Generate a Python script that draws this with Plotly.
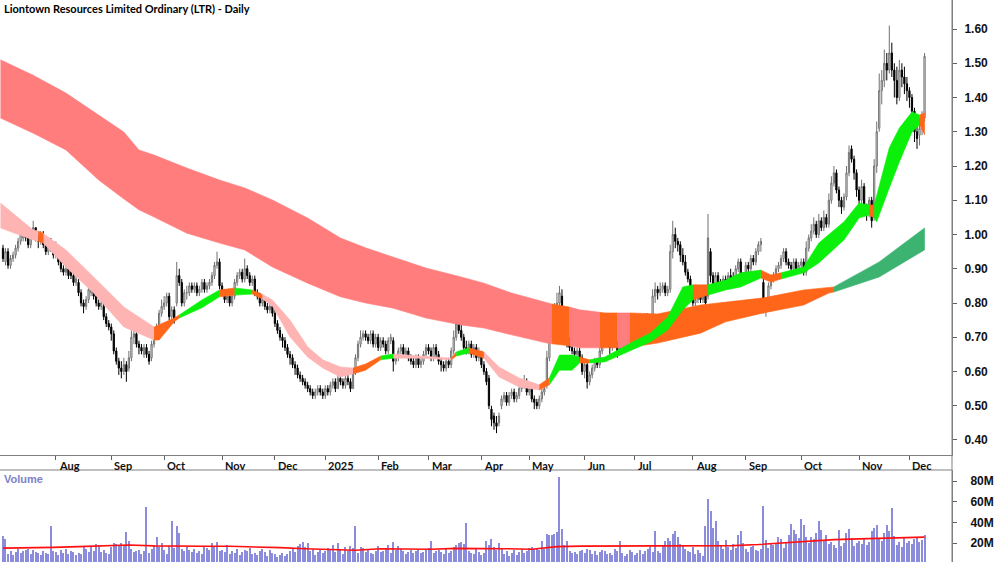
import pandas as pd
import plotly.graph_objects as go

TITLE = "Liontown Resources Limited Ordinary (LTR) - Daily"
HOLIDAYS = ["2024-12-25", "2024-12-26", "2025-01-01", "2025-01-27",
            "2025-04-18", "2025-04-21", "2025-04-25", "2025-06-09"]

# daily prices in cents
OPEN = [96, 92, 95, 91, 93, 94, 96, 98, 99, 101,
        99, 97, 100, 102, 99, 98, 100, 97, 95, 98,
        96, 94, 96, 92, 90, 89, 90, 89, 88, 86,
        86, 83, 80, 79, 81, 83, 86, 82, 80, 79,
        79, 76, 74, 73, 71, 66, 63, 61, 60, 62,
        61, 64, 70, 71, 68, 67, 65, 67, 65, 64,
        68, 71, 73, 77, 79, 80, 82, 76, 78, 80,
        88, 86, 80, 83, 83, 85, 84, 85, 83, 84,
        86, 84, 85, 86, 88, 91, 92, 85, 83, 81,
        82, 80, 82, 86, 88, 89, 87, 90, 88, 86,
        87, 83, 82, 80, 81, 79, 78, 79, 77, 74,
        72, 70, 69, 67, 65, 64, 62, 61, 59, 58,
        57, 56, 55, 54, 53, 54, 55, 54, 53, 55,
        54, 56, 57, 55, 58, 57, 56, 58, 57, 55,
        60, 64, 68, 70, 71, 70, 69, 71, 68, 70,
        67, 69, 68, 66, 69, 69, 63, 64, 66, 67,
        65, 66, 64, 63, 62, 64, 62, 63, 65, 67,
        66, 64, 67, 65, 63, 62, 61, 63, 62, 66,
        70, 75, 72, 70, 67, 66, 68, 65, 67, 64,
        65, 62, 60, 58, 49, 47, 45, 45, 50, 52,
        53, 51, 53, 54, 52, 53, 55, 56, 57, 54,
        55, 52, 51, 50, 52, 54, 56, 64, 70, 74,
        78, 80, 82, 75, 70, 68, 67, 66, 65, 66,
        64, 60, 62, 57, 59, 61, 63, 62, 66, 68,
        70, 69, 67, 70, 68, 66, 69, 70, 68, 70,
        72, 73, 74, 72, 75, 74, 76, 73, 75, 82,
        84, 83, 84, 85, 83, 84, 95, 100, 98, 97,
        94, 92, 89, 87, 82, 80, 81, 82, 81, 83,
        82, 95, 88, 85, 88, 86, 85, 87, 86, 88,
        87, 86, 90, 92, 88, 87, 91, 90, 93, 92,
        95, 97, 86, 78, 80, 85, 87, 88, 90, 91,
        93, 95, 92, 91, 90, 92, 90, 91, 92, 89,
        96, 99, 101, 103, 100, 104, 102, 105, 103, 110,
        115, 118, 113, 110, 108, 111, 118, 125, 122, 118,
        113, 110, 114, 108, 106, 110, 105, 120, 131, 142,
        145, 150, 148, 153, 148, 145, 140, 148, 146, 144,
        142, 140, 136, 130, 129, 131, 134]

HIGH = [97, 96, 96, 94, 95, 97, 99, 101, 103, 102,
        100, 101, 104, 102, 100, 101, 101, 98, 99, 99,
        97, 98, 97, 93, 91, 91, 91, 90, 89, 88,
        87, 84, 81, 82, 85, 88, 87, 83, 81, 81,
        80, 77, 75, 74, 72, 67, 64, 63, 64, 63,
        66, 72, 73, 72, 69, 68, 68, 68, 66, 69,
        72, 74, 78, 81, 82, 83, 83, 79, 79, 92,
        90, 87, 84, 85, 86, 86, 86, 86, 85, 87,
        87, 86, 87, 89, 92, 95, 93, 86, 84, 83,
        83, 83, 87, 89, 90, 90, 93, 91, 89, 88,
        88, 84, 83, 82, 82, 80, 80, 80, 78, 75,
        73, 71, 70, 68, 66, 65, 63, 62, 60, 59,
        58, 57, 56, 55, 55, 56, 56, 55, 56, 56,
        57, 58, 58, 59, 59, 58, 59, 59, 58, 61,
        65, 69, 72, 72, 72, 71, 72, 72, 71, 71,
        70, 70, 69, 70, 71, 70, 65, 67, 68, 68,
        67, 67, 65, 64, 65, 65, 64, 66, 68, 68,
        67, 68, 68, 66, 64, 63, 64, 64, 67, 72,
        76, 76, 74, 71, 69, 69, 69, 68, 68, 67,
        66, 63, 61, 59, 50, 48, 47, 48, 53, 54,
        54, 54, 55, 55, 54, 56, 57, 59, 58, 56,
        56, 53, 52, 53, 55, 57, 66, 72, 76, 80,
        83, 85, 84, 76, 72, 70, 68, 67, 67, 67,
        65, 63, 63, 60, 62, 64, 64, 67, 70, 71,
        71, 70, 71, 71, 69, 70, 72, 71, 71, 74,
        75, 76, 75, 76, 76, 77, 77, 76, 84, 86,
        85, 86, 86, 86, 85, 97, 104, 102, 99, 98,
        96, 94, 90, 88, 83, 83, 84, 83, 84, 84,
        106, 96, 89, 89, 89, 87, 88, 88, 89, 90,
        89, 91, 93, 93, 89, 92, 92, 94, 94, 96,
        98, 99, 87, 81, 86, 88, 89, 91, 92, 94,
        96, 96, 93, 92, 93, 93, 92, 93, 93, 98,
        100, 103, 105, 104, 106, 105, 107, 106, 112, 117,
        120, 119, 114, 111, 112, 120, 126, 126, 123, 119,
        114, 116, 115, 109, 111, 111, 122, 133, 147, 148,
        154, 153, 161, 156, 150, 149, 151, 150, 149, 146,
        143, 141, 137, 133, 134, 136, 153]

LOW = [92, 91, 90, 90, 92, 93, 95, 97, 98, 98,
       96, 96, 99, 98, 96, 97, 96, 94, 94, 95,
       93, 93, 91, 89, 88, 88, 87, 87, 85, 85,
       82, 79, 77, 78, 80, 82, 81, 79, 78, 78,
       75, 73, 72, 69, 65, 62, 59, 58, 59, 57,
       60, 63, 68, 67, 65, 65, 64, 64, 62, 63,
       67, 70, 72, 76, 78, 79, 75, 75, 74, 79,
       85, 79, 79, 81, 82, 83, 83, 82, 82, 83,
       83, 83, 84, 85, 87, 90, 84, 82, 80, 80,
       79, 79, 81, 85, 87, 86, 86, 87, 85, 85,
       82, 81, 79, 79, 78, 77, 77, 76, 73, 71,
       69, 67, 66, 64, 62, 61, 59, 58, 57, 56,
       55, 54, 53, 52, 52, 53, 53, 52, 52, 53,
       53, 55, 54, 55, 56, 55, 55, 56, 54, 55,
       59, 63, 67, 69, 69, 68, 68, 67, 67, 66,
       66, 67, 65, 65, 68, 60, 62, 63, 65, 64,
       64, 63, 62, 61, 61, 61, 61, 62, 64, 65,
       63, 63, 64, 62, 60, 60, 60, 61, 61, 65,
       69, 71, 69, 66, 65, 65, 64, 64, 63, 63,
       61, 59, 56, 49, 44, 43, 42, 44, 49, 51,
       50, 50, 52, 51, 51, 52, 54, 55, 53, 53,
       51, 49, 49, 49, 51, 53, 55, 63, 69, 73,
       77, 79, 74, 68, 67, 66, 65, 64, 64, 63,
       59, 58, 55, 56, 58, 60, 61, 61, 65, 67,
       68, 65, 66, 67, 64, 65, 68, 67, 67, 69,
       70, 71, 71, 71, 72, 73, 72, 72, 74, 80,
       81, 82, 83, 82, 82, 83, 93, 96, 95, 92,
       91, 88, 86, 81, 79, 79, 80, 80, 80, 79,
       81, 86, 83, 84, 85, 84, 84, 85, 85, 86,
       85, 85, 89, 87, 86, 86, 89, 89, 91, 91,
       94, 95, 77, 76, 79, 84, 86, 87, 89, 90,
       92, 91, 90, 89, 89, 89, 89, 90, 88, 88,
       95, 98, 100, 99, 99, 101, 101, 102, 102, 109,
       114, 112, 108, 106, 107, 110, 117, 121, 116, 111,
       108, 109, 107, 104, 105, 102, 104, 118, 130, 138,
       143, 145, 147, 146, 140, 138, 139, 143, 141, 139,
       137, 134, 127, 125, 126, 129, 133]

CLOSE = [93, 95, 91, 93, 94, 96, 98, 100, 101, 99,
         97, 100, 102, 99, 98, 100, 97, 95, 98, 96,
         94, 97, 92, 90, 89, 90, 88, 88, 86, 87,
         83, 80, 79, 81, 84, 86, 82, 80, 79, 80,
         76, 74, 73, 71, 66, 63, 61, 60, 62, 60,
         64, 70, 71, 68, 67, 66, 67, 65, 63, 68,
         71, 72, 77, 79, 80, 82, 76, 78, 75, 88,
         86, 80, 83, 83, 85, 84, 85, 83, 84, 86,
         84, 85, 86, 88, 91, 92, 85, 83, 81, 82,
         80, 82, 86, 88, 89, 87, 90, 88, 86, 87,
         83, 82, 80, 81, 79, 78, 79, 77, 74, 72,
         70, 69, 67, 65, 64, 62, 61, 59, 58, 57,
         56, 55, 54, 53, 54, 55, 54, 53, 55, 54,
         56, 57, 55, 58, 57, 56, 58, 57, 55, 60,
         64, 68, 70, 71, 70, 69, 71, 68, 70, 67,
         69, 68, 66, 69, 70, 63, 64, 66, 67, 65,
         66, 64, 63, 62, 64, 62, 63, 65, 67, 66,
         64, 67, 65, 63, 62, 61, 63, 62, 66, 70,
         74, 72, 70, 67, 66, 68, 65, 67, 64, 65,
         62, 60, 57, 50, 46, 45, 44, 47, 52, 53,
         51, 53, 54, 52, 53, 55, 56, 57, 54, 55,
         52, 51, 50, 52, 54, 55, 64, 70, 74, 78,
         80, 83, 75, 70, 68, 67, 66, 65, 66, 64,
         60, 62, 57, 59, 61, 63, 62, 66, 68, 70,
         69, 67, 70, 68, 66, 69, 70, 68, 70, 72,
         73, 74, 72, 75, 74, 76, 73, 75, 82, 84,
         83, 84, 85, 83, 84, 95, 100, 98, 97, 94,
         92, 89, 87, 82, 80, 81, 82, 81, 83, 80,
         99, 88, 85, 88, 86, 85, 87, 86, 88, 87,
         86, 90, 92, 88, 87, 91, 90, 93, 92, 95,
         97, 98, 78, 80, 85, 87, 88, 90, 91, 93,
         95, 92, 91, 90, 92, 90, 91, 92, 89, 96,
         99, 101, 103, 100, 104, 102, 105, 103, 110, 115,
         118, 113, 110, 108, 111, 118, 124, 122, 118, 113,
         110, 114, 108, 106, 110, 104, 120, 130, 142, 145,
         150, 148, 153, 148, 145, 140, 148, 146, 144, 142,
         140, 136, 130, 128, 131, 134, 152]

# daily volume in millions of shares
VOLUME = [27, 24, 9, 12, 8, 11, 14, 10, 12, 13,
          14, 9, 13, 11, 10, 8, 12, 10, 9, 36,
          12, 11, 8, 13, 10, 14, 9, 12, 11, 8,
          10, 9, 17, 14, 11, 16, 12, 19, 18, 11,
          13, 10, 9, 16, 20, 19, 18, 20, 17, 31,
          22, 14, 11, 12, 13, 9, 12, 55, 10, 14,
          18, 26, 16, 20, 13, 9, 17, 41, 15, 36,
          30, 14, 12, 16, 13, 11, 14, 10, 12, 9,
          17, 15, 13, 20, 16, 21, 12, 13, 11, 18,
          9, 12, 10, 14, 8, 11, 13, 12, 15, 9,
          10, 8, 12, 14, 11, 7, 13, 10, 9, 6,
          8, 10, 7, 9, 12, 14, 11, 17, 19, 21,
          16, 20, 12, 14, 8, 11, 13, 10, 12, 15,
          14, 18, 11, 20, 13, 9, 16, 12, 17, 15,
          36, 10, 16, 15, 11, 13, 10, 9, 12, 17,
          11, 12, 15, 18, 10, 21, 13, 17, 14, 12,
          9, 11, 13, 10, 12, 14, 10, 11, 13, 15,
          22, 10, 12, 13, 11, 9, 14, 10, 12, 16,
          18, 20, 21, 19, 39, 12, 10, 9, 14, 11,
          8, 10, 22, 18, 24, 16, 13, 20, 14, 9,
          12, 7, 10, 13, 8, 11, 14, 10, 12, 15,
          16, 14, 15, 13, 22, 14, 29, 28, 28, 29,
          31, 84, 34, 18, 22, 12, 10, 11, 9, 12,
          13, 10, 14, 13, 9, 12, 8, 11, 13, 12,
          9, 10, 8, 14, 12, 22, 10, 7, 9, 13,
          11, 8, 10, 13, 9, 12, 14, 16, 11, 32,
          12, 10, 18, 22, 25, 22, 29, 32, 26, 19,
          18, 14, 12, 11, 16, 9, 13, 10, 7, 36,
          63, 51, 35, 41, 22, 18, 14, 23, 16, 13,
          19, 15, 28, 32, 20, 14, 11, 16, 17, 13,
          12, 14, 56, 23, 15, 19, 18, 20, 26, 24,
          15, 20, 28, 38, 33, 29, 25, 43, 37, 26,
          20, 26, 24, 30, 41, 33, 22, 28, 19, 21,
          18, 15, 33, 17, 20, 30, 34, 25, 17, 20,
          22, 19, 25, 18, 21, 32, 35, 37, 24, 22,
          30, 37, 32, 54, 27, 18, 21, 16, 25, 20,
          22, 19, 24, 26, 21, 23, 28]

# volume moving average (millions), read every 10 sessions
MA_DAY = [0, 10, 20, 30, 40, 50, 60, 70, 80, 90, 100, 110, 120, 130, 140, 150, 160, 170, 180,
          190, 200, 210, 220, 230, 240, 250, 260, 270, 280, 290, 300, 310, 320, 330, 340, 350, 360, 366]
MA_VOL = [15, 15.2, 15.8, 16.5, 17.5, 18, 17.2, 16.8, 16.8, 16.8, 16.5, 15.5, 14.5, 13.5, 13, 14.5,
          14.2, 14, 14.8, 15, 14.5, 14, 16.5, 17, 17.2, 17, 17, 17.2, 17.5, 17.5, 18.5, 20, 22,
          23.3, 24, 24.8, 25.3, 25.7]

# long-term moving average ribbon (session, upper, lower, state of following span)
LONG_DAY = [-1, 12, 25, 38, 48, 54, 60, 73, 86, 96, 107, 121, 134, 144, 155, 168, 182, 191, 202,
            216, 218, 225, 229, 237, 239, 244, 249, 260, 277, 287, 302, 318, 328, 330, 348, 366]
LONG_TOP = [1.51, 1.465, 1.413, 1.349, 1.299, 1.247, 1.232, 1.194, 1.159, 1.136, 1.101, 1.048,
            0.990, 0.961, 0.934, 0.902, 0.876, 0.858, 0.829, 0.800, 0.797, 0.788, 0.780, 0.773,
            0.771, 0.771, 0.771, 0.768, 0.794, 0.803, 0.815, 0.838, 0.844, 0.847, 0.920, 1.019]
LONG_BOT = [1.340, 1.296, 1.247, 1.159, 1.104, 1.072, 1.051, 1.004, 0.975, 0.955, 0.905, 0.858,
            0.818, 0.800, 0.785, 0.756, 0.736, 0.727, 0.707, 0.683, 0.681, 0.675, 0.669, 0.669,
            0.669, 0.669, 0.671, 0.683, 0.712, 0.745, 0.771, 0.794, 0.829, 0.832, 0.876, 0.955]
LONG_STATE = ["R"] * 20 + ["O", "R", "R", "O", "O", "R"] + ["O"] * 7 + ["G", "G"]

# short-term moving average ribbon
SHORT_DAY = [-1, 12, 14, 16, 25, 36, 48, 60, 62, 68, 70, 79, 86, 92, 99, 103, 107, 114, 121, 127,
             134, 139, 144, 150, 155, 166, 178, 180, 185, 191, 197, 205, 213, 217, 221, 226, 229,
             233, 239, 250, 257, 264, 270, 274, 280, 287, 293, 301, 305, 309, 318, 324, 334, 340,
             344, 346, 347, 352, 356, 361, 364, 366]
SHORT_TOP = [1.092, 1.013, 1.010, 1.003, 0.955, 0.876, 0.788, 0.730, 0.736, 0.756, 0.765, 0.809,
             0.838, 0.844, 0.838, 0.825, 0.809, 0.750, 0.672, 0.634, 0.613, 0.610, 0.622, 0.645,
             0.651, 0.645, 0.639, 0.657, 0.669, 0.657, 0.613, 0.581, 0.561, 0.581, 0.648, 0.648,
             0.642, 0.634, 0.642, 0.686, 0.712, 0.759, 0.847, 0.853, 0.853, 0.867, 0.888, 0.896,
             0.882, 0.888, 0.905, 0.975, 1.037, 1.092, 1.086, 1.086, 1.115, 1.253, 1.311, 1.358,
             1.349, 1.355]
SHORT_BOT = [1.019, 0.984, 0.980, 0.975, 0.905, 0.829, 0.730, 0.692, 0.692, 0.745, 0.756, 0.786,
             0.818, 0.823, 0.826, 0.812, 0.791, 0.701, 0.642, 0.610, 0.584, 0.593, 0.604, 0.634,
             0.639, 0.639, 0.634, 0.645, 0.654, 0.639, 0.584, 0.555, 0.546, 0.561, 0.604, 0.604,
             0.625, 0.625, 0.628, 0.663, 0.686, 0.721, 0.780, 0.809, 0.823, 0.838, 0.847, 0.873,
             0.861, 0.870, 0.888, 0.917, 0.984, 1.048, 1.057, 1.048, 1.037, 1.136, 1.212, 1.299,
             1.320, 1.291]
SHORT_STATE = ["P", "P", "O", "P", "P", "P", "P", "O", "O", "O",
               "G", "G", "O", "G", "O", "P", "P", "P", "P", "P",
               "P", "O", "O", "G", "P", "P", "O", "G", "O", "P",
               "P", "P", "O", "G", "G", "G", "O", "G", "G", "G",
               "G", "G", "G", "O", "G", "G", "G", "O", "O", "G",
               "G", "G", "G", "G", "O", "G", "G", "G", "G", "G",
               "O"]

PRICE_TICKS = [0.4, 0.5, 0.6, 0.7, 0.8, 0.9, 1.0, 1.1, 1.2, 1.3, 1.4, 1.5, 1.6]
VOL_TICKS = [20, 40, 60, 80]

LONG_COLORS = {"R": "#FF7D7D", "O": "#FF661A", "G": "#3CB371"}
SHORT_COLORS = {"P": "#FFB4B4", "O": "#FF661A", "G": "#0AF00A"}

N = len(CLOSE)
dates = [d for d in pd.bdate_range("2024-07-03", "2026-01-31")
         if d.strftime("%Y-%m-%d") not in HOLIDAYS][:N]
X = list(range(N))

month_idx, month_txt = [], []
prev = None
for i, d in enumerate(dates):
    key = (d.year, d.month)
    if key != prev and i > 0:
        month_idx.append(i)
        month_txt.append(str(d.year) if d.month == 1 else d.strftime("%b"))
    prev = key

fig = go.Figure()


def add_ribbon(days, top, bot, states, colors):
    k, n = 0, len(states)
    while k < n:
        m = k
        while m + 1 < n and states[m + 1] == states[k]:
            m += 1
        xs = days[k:m + 2]
        ys = top[k:m + 2] + bot[k:m + 2][::-1]
        col = colors[states[k]]
        fig.add_trace(go.Scatter(x=xs + xs[::-1], y=ys, fill="toself", fillcolor=col,
                                 mode="lines", line=dict(width=0.6, color=col),
                                 hoverinfo="skip", showlegend=False, xaxis="x", yaxis="y"))
        k = m + 1


add_ribbon(LONG_DAY, LONG_TOP, LONG_BOT, LONG_STATE, LONG_COLORS)
add_ribbon(SHORT_DAY, SHORT_TOP, SHORT_BOT, SHORT_STATE, SHORT_COLORS)

fig.add_trace(go.Candlestick(
    x=X, open=[v / 100 for v in OPEN], high=[v / 100 for v in HIGH],
    low=[v / 100 for v in LOW], close=[v / 100 for v in CLOSE],
    increasing=dict(fillcolor="#FFFFFF", line=dict(color="#707070", width=1)),
    decreasing=dict(fillcolor="#000000", line=dict(color="#000000", width=1)),
    whiskerwidth=0, showlegend=False, xaxis="x", yaxis="y"))

fig.add_trace(go.Bar(x=X, y=VOLUME, width=0.42, marker=dict(color="#8C8CDC", line=dict(width=0)),
                     showlegend=False, xaxis="x2", yaxis="y2"))
fig.add_trace(go.Scatter(x=MA_DAY, y=MA_VOL, mode="lines", line=dict(color="#FF1010", width=1.6),
                         showlegend=False, xaxis="x2", yaxis="y2"))

XR = [-1.19, 376.9]
LABEL_FONT = "Lato, Liberation Sans, Arial, sans-serif"
AXIS_FONT = dict(family="Liberation Sans, Arial, sans-serif", size=12, color="#111111", weight="bold")
fig.update_layout(
    template="none", width=1000, height=562, margin=dict(l=0, r=0, t=0, b=0),
    paper_bgcolor="white", plot_bgcolor="white", showlegend=False, bargap=0,
    xaxis=dict(domain=[0, 0.952], range=XR, anchor="y", tickvals=month_idx, ticks="outside",
               ticklen=4, tickcolor="#606060", showticklabels=False, showgrid=False,
               zeroline=False, showline=True, linecolor="#808080", linewidth=1,
               rangeslider=dict(visible=False), automargin=False),
    yaxis=dict(domain=[0.1904, 1], range=[0.3562, 1.6847], side="right", anchor="x",
               tickvals=PRICE_TICKS, ticktext=["%.2f" % v for v in PRICE_TICKS],
               ticks="outside", ticklen=4, tickcolor="#606060", showline=True,
               linecolor="#808080", showgrid=False, zeroline=False, automargin=False,
               ticklabelstandoff=5, tickfont=AXIS_FONT),
    xaxis2=dict(domain=[0, 0.952], range=XR, anchor="y2", matches="x", showticklabels=False,
                showgrid=False, zeroline=False, showline=False, ticks="", automargin=False),
    yaxis2=dict(domain=[0, 0.1637], range=[1.6, 90.7], side="right", anchor="x2",
                tickvals=VOL_TICKS, ticktext=["%dM" % v for v in VOL_TICKS], ticks="outside",
                ticklen=4, tickcolor="#606060", showline=True, linecolor="#808080",
                showgrid=False, zeroline=False, automargin=False,
                ticklabelstandoff=11, tickfont=AXIS_FONT),
)

for i, t in zip(month_idx, month_txt):
    fig.add_annotation(x=i, y=0.1904, xref="x", yref="paper", text=t, showarrow=False,
                       xanchor="left", yanchor="top", xshift=1, yshift=-2,
                       font=dict(family=LABEL_FONT, size=11, color="#111111", weight="bold"))

fig.add_annotation(x=0.002, y=1, xref="paper", yref="paper", text=TITLE,
                   showarrow=False, xanchor="left", yanchor="top", yshift=0,
                   font=dict(family=LABEL_FONT, size=11, color="#000000", weight="bold"))
fig.add_annotation(x=0.002, y=0.1637, xref="paper", yref="paper", text="Volume",
                   showarrow=False, xanchor="left", yanchor="top", yshift=-1,
                   font=dict(family="Liberation Sans, Arial, sans-serif", size=11,
                             color="#8080C8", weight="bold"))

fig.add_shape(type="line", xref="paper", yref="paper", x0=0, x1=0.952, y0=0.1637, y1=0.1637,
              line=dict(color="#808080", width=1))
fig.add_shape(type="line", xref="paper", yref="paper", x0=0.952, x1=0.952, y0=0, y1=1,
              line=dict(color="#808080", width=1))

fig.write_html("out.html")
